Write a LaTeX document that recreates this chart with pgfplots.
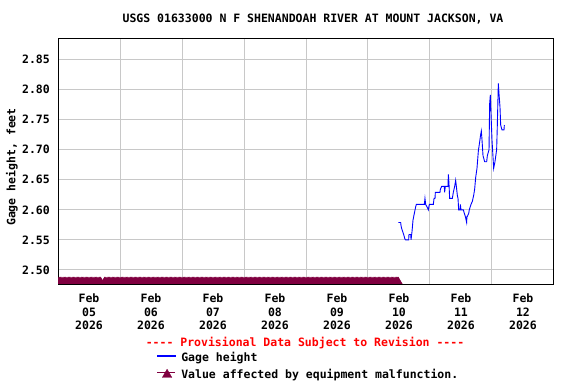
\documentclass[border=0pt]{standalone}
\usepackage{pgfplots}
\pgfplotsset{compat=1.18}
\usepackage{fontspec}
\setmainfont{DejaVu Sans Mono}[Ligatures=TeXOff]
\definecolor{malf}{RGB}{128,0,64}
\definecolor{gridgray}{RGB}{200,200,200}
\newcommand{\uf}{\fontsize{11.5bp}{13.3bp}\selectfont\bfseries}
\pgfplotsset{
  lineleg/.style={legend image code/.code={\path[fill=blue, draw=blue, line width=0.1bp] (0bp,2.5bp) rectangle (18bp,3.5bp);}},
  triLeg/.style={legend image code/.code={\path (0bp,3bp) -- (18bp,3bp); \path[draw=malf, fill=malf, line width=0.3bp] plot[mark=triangle*, mark size=5.5bp] coordinates {(10bp,1bp)};}},
}
\begin{document}
\begin{tikzpicture}[x=1bp,y=1bp]
\path[use as bounding box] (0bp,0bp) rectangle (576bp,384bp);
\node[font=\uf] at (313bp,365bp) {USGS 01633000 N F SHENANDOAH RIVER AT MOUNT JACKSON, VA};
\node[font=\uf, rotate=90] at (12bp,217bp) {Gage height, feet};
\node[font=\uf, text=red] at (305bp,41bp) {---- Provisional Data Subject to Revision ----};
\begin{axis}[
  at={(58bp,100bp)}, anchor=south west,
  scale only axis, width=496bp, height=245bp,
  xmin=0, xmax=8, ymin=2.4767, ymax=2.884,
  xtick={0.5,1.5,2.5,3.5,4.5,5.5,6.5,7.5},
  xticklabels={{Feb\\05\\2026},{Feb\\06\\2026},{Feb\\07\\2026},{Feb\\08\\2026},{Feb\\09\\2026},{Feb\\10\\2026},{Feb\\11\\2026},{Feb\\12\\2026}},
  minor xtick={1,2,3,4,5,6,7}, xminorgrids=true,
  ytick={2.50,2.55,2.60,2.65,2.70,2.75,2.80,2.85}, ymajorgrids=true,
  major tick length=0pt, minor tick length=0pt,
  grid style={color=gridgray, line width=1bp},
  minor grid style={color=gridgray, line width=1bp},
  axis line style={line width=1bp, black},
  tick label style={font=\uf},
  yticklabel style={inner sep=0pt, xshift=-8bp, /pgf/number format/fixed, /pgf/number format/fixed zerofill, /pgf/number format/precision=2, /pgf/number format/assume math mode=true},
  xticklabel style={align=center, inner sep=0pt, yshift=-10bp},
  clip marker paths=true,
  legend style={at={(0.199,-0.2815)}, anchor=north west, draw=none, fill=none, inner sep=0pt,
    font=\uf, row sep=6bp, column sep=6bp,
    nodes={inner sep=0pt, text height=8bp, text depth=2bp}},
  legend cell align=left,
]
\addplot[color=blue, line width=0.9bp, lineleg] coordinates {
(5.489,2.579)(5.527,2.579)(5.532,2.574)(5.543,2.569)(5.559,2.564)(5.575,2.559)(5.597,2.551)(5.608,2.550)(5.656,2.550)(5.661,2.559)(5.690,2.559)(5.694,2.550)(5.710,2.564)(5.726,2.583)(5.747,2.594)(5.769,2.605)(5.780,2.609)(5.909,2.609)(5.919,2.619)(5.930,2.609)(5.957,2.604)(5.973,2.600)(5.989,2.609)(6.054,2.609)(6.065,2.619)(6.081,2.619)(6.086,2.629)(6.161,2.629)(6.167,2.634)(6.188,2.639)(6.231,2.639)(6.236,2.629)(6.247,2.639)(6.290,2.639)(6.296,2.659)(6.306,2.644)(6.317,2.619)(6.360,2.619)(6.376,2.629)(6.398,2.639)(6.414,2.649)(6.425,2.639)(6.441,2.624)(6.452,2.619)(6.462,2.600)(6.484,2.600)(6.489,2.609)(6.500,2.600)(6.538,2.600)(6.554,2.594)(6.570,2.589)(6.591,2.579)(6.596,2.589)(6.602,2.589)(6.624,2.594)(6.634,2.600)(6.661,2.609)(6.683,2.614)(6.704,2.624)(6.720,2.634)(6.737,2.654)(6.758,2.669)(6.780,2.698)(6.801,2.713)(6.817,2.725)(6.828,2.731)(6.839,2.716)(6.855,2.690)(6.882,2.680)(6.914,2.680)(6.925,2.690)(6.952,2.700)(6.962,2.776)(6.973,2.791)(6.984,2.760)(7.000,2.716)(7.027,2.669)(7.048,2.680)(7.075,2.700)(7.086,2.741)(7.102,2.810)(7.113,2.793)(7.129,2.771)(7.140,2.741)(7.161,2.733)(7.194,2.733)(7.199,2.741)
};
\addlegendentry{Gage height}
\addplot[only marks, mark=triangle*, mark size=5.3bp, color=malf, mark options={line width=0.3bp}, triLeg] coordinates {
(0,2.4795)(0.021,2.4795)(0.042,2.4795)(0.063,2.4795)(0.083,2.4795)(0.104,2.4795)(0.125,2.4795)(0.146,2.4795)(0.167,2.4795)(0.188,2.4795)(0.208,2.4795)(0.229,2.4795)
(0.25,2.4795)(0.271,2.4795)(0.292,2.4795)(0.313,2.4795)(0.333,2.4795)(0.354,2.4795)(0.375,2.4795)(0.396,2.4795)(0.417,2.4795)(0.438,2.4795)(0.458,2.4795)(0.479,2.4795)
(0.5,2.4795)(0.521,2.4795)(0.542,2.4795)(0.563,2.4795)(0.583,2.4795)(0.604,2.4795)(0.625,2.4795)(0.646,2.4795)(0.667,2.4795)(0.688,2.4795)
(0.75,2.4795)(0.771,2.4795)(0.792,2.4795)(0.813,2.4795)(0.833,2.4795)(0.854,2.4795)(0.875,2.4795)(0.896,2.4795)(0.917,2.4795)(0.938,2.4795)(0.958,2.4795)(0.979,2.4795)
(1,2.4795)(1.021,2.4795)(1.042,2.4795)(1.063,2.4795)(1.083,2.4795)(1.104,2.4795)(1.125,2.4795)(1.146,2.4795)(1.167,2.4795)(1.188,2.4795)(1.208,2.4795)(1.229,2.4795)
(1.25,2.4795)(1.271,2.4795)(1.292,2.4795)(1.313,2.4795)(1.333,2.4795)(1.354,2.4795)(1.375,2.4795)(1.396,2.4795)(1.417,2.4795)(1.438,2.4795)(1.458,2.4795)(1.479,2.4795)
(1.5,2.4795)(1.521,2.4795)(1.542,2.4795)(1.563,2.4795)(1.583,2.4795)(1.604,2.4795)(1.625,2.4795)(1.646,2.4795)(1.667,2.4795)(1.688,2.4795)(1.708,2.4795)(1.729,2.4795)
(1.75,2.4795)(1.771,2.4795)(1.792,2.4795)(1.813,2.4795)(1.833,2.4795)(1.854,2.4795)(1.875,2.4795)(1.896,2.4795)(1.917,2.4795)(1.938,2.4795)(1.958,2.4795)(1.979,2.4795)
(2,2.4795)(2.021,2.4795)(2.042,2.4795)(2.063,2.4795)(2.083,2.4795)(2.104,2.4795)(2.125,2.4795)(2.146,2.4795)(2.167,2.4795)(2.188,2.4795)(2.208,2.4795)(2.229,2.4795)
(2.25,2.4795)(2.271,2.4795)(2.292,2.4795)(2.313,2.4795)(2.333,2.4795)(2.354,2.4795)(2.375,2.4795)(2.396,2.4795)(2.417,2.4795)(2.438,2.4795)(2.458,2.4795)(2.479,2.4795)
(2.5,2.4795)(2.521,2.4795)(2.542,2.4795)(2.563,2.4795)(2.583,2.4795)(2.604,2.4795)(2.625,2.4795)(2.646,2.4795)(2.667,2.4795)(2.688,2.4795)(2.708,2.4795)(2.729,2.4795)
(2.75,2.4795)(2.771,2.4795)(2.792,2.4795)(2.813,2.4795)(2.833,2.4795)(2.854,2.4795)(2.875,2.4795)(2.896,2.4795)(2.917,2.4795)(2.938,2.4795)(2.958,2.4795)(2.979,2.4795)
(3,2.4795)(3.021,2.4795)(3.042,2.4795)(3.063,2.4795)(3.083,2.4795)(3.104,2.4795)(3.125,2.4795)(3.146,2.4795)(3.167,2.4795)(3.188,2.4795)(3.208,2.4795)(3.229,2.4795)
(3.25,2.4795)(3.271,2.4795)(3.292,2.4795)(3.313,2.4795)(3.333,2.4795)(3.354,2.4795)(3.375,2.4795)(3.396,2.4795)(3.417,2.4795)(3.438,2.4795)(3.458,2.4795)(3.479,2.4795)
(3.5,2.4795)(3.521,2.4795)(3.542,2.4795)(3.563,2.4795)(3.583,2.4795)(3.604,2.4795)(3.625,2.4795)(3.646,2.4795)(3.667,2.4795)(3.688,2.4795)(3.708,2.4795)(3.729,2.4795)
(3.75,2.4795)(3.771,2.4795)(3.792,2.4795)(3.813,2.4795)(3.833,2.4795)(3.854,2.4795)(3.875,2.4795)(3.896,2.4795)(3.917,2.4795)(3.938,2.4795)(3.958,2.4795)(3.979,2.4795)
(4,2.4795)(4.021,2.4795)(4.042,2.4795)(4.063,2.4795)(4.083,2.4795)(4.104,2.4795)(4.125,2.4795)(4.146,2.4795)(4.167,2.4795)(4.188,2.4795)(4.208,2.4795)(4.229,2.4795)
(4.25,2.4795)(4.271,2.4795)(4.292,2.4795)(4.313,2.4795)(4.333,2.4795)(4.354,2.4795)(4.375,2.4795)(4.396,2.4795)(4.417,2.4795)(4.438,2.4795)(4.458,2.4795)(4.479,2.4795)
(4.5,2.4795)(4.521,2.4795)(4.542,2.4795)(4.563,2.4795)(4.583,2.4795)(4.604,2.4795)(4.625,2.4795)(4.646,2.4795)(4.667,2.4795)(4.688,2.4795)(4.708,2.4795)(4.729,2.4795)
(4.75,2.4795)(4.771,2.4795)(4.792,2.4795)(4.813,2.4795)(4.833,2.4795)(4.854,2.4795)(4.875,2.4795)(4.896,2.4795)(4.917,2.4795)(4.938,2.4795)(4.958,2.4795)(4.979,2.4795)
(5,2.4795)(5.021,2.4795)(5.042,2.4795)(5.063,2.4795)(5.083,2.4795)(5.104,2.4795)(5.125,2.4795)(5.146,2.4795)(5.167,2.4795)(5.188,2.4795)(5.208,2.4795)(5.229,2.4795)
(5.25,2.4795)(5.271,2.4795)(5.292,2.4795)(5.313,2.4795)(5.333,2.4795)(5.354,2.4795)(5.375,2.4795)(5.396,2.4795)(5.417,2.4795)(5.438,2.4795)(5.458,2.4795)(5.479,2.4795)
(5.489,2.4795)
};
\addlegendentry{Value affected by equipment malfunction.}
\end{axis}
\end{tikzpicture}
\end{document}
